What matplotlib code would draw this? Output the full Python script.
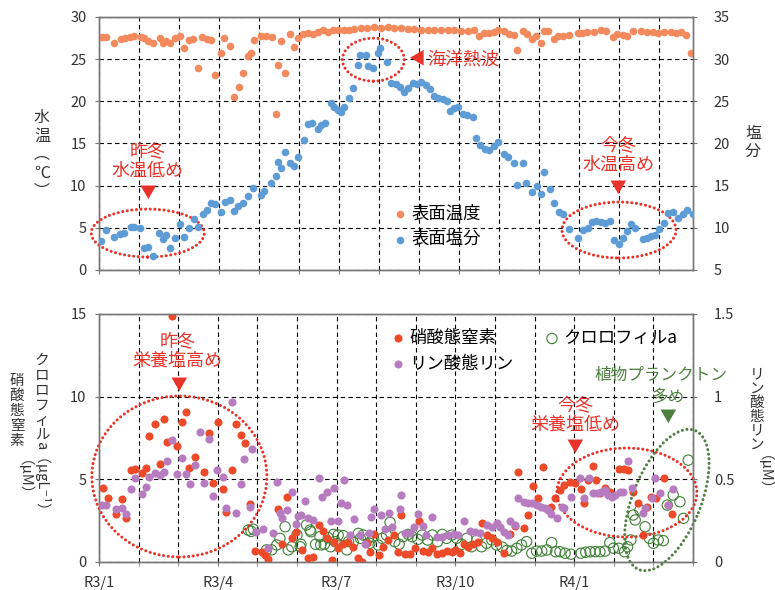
import matplotlib.pyplot as plt
from matplotlib.patches import Ellipse
from matplotlib.transforms import ScaledTranslation

plt.rcParams['font.family'] = ['Noto Sans CJK JP', 'DejaVu Sans']

# ---- data (x = months since R3/1) ----
temp_x = [0.07, 0.17, 0.38, 0.55, 0.65, 0.78, 0.87, 1.05, 1.13, 1.23, 1.35, 1.52, 1.59, 1.67, 1.78, 1.91,
          2.03, 2.12, 2.24, 2.35, 2.48, 2.58, 2.70, 2.80, 2.91, 3.05, 3.13, 3.27, 3.37, 3.49, 3.60, 3.72,
          3.80, 3.87, 4.05, 4.17, 4.32, 4.42, 4.47, 4.55, 4.65, 4.77, 4.88, 4.97, 5.09, 5.22, 5.34, 5.47,
          5.59, 5.72, 5.84, 5.97, 6.13, 6.25, 6.38, 6.55, 6.70, 6.88, 7.05, 7.22, 7.38, 7.55, 7.72, 7.88,
          8.05, 8.22, 8.38, 8.55, 8.72, 8.88, 9.05, 9.22, 9.38, 9.51, 9.62, 9.75, 9.88, 9.97, 10.12, 10.26,
          10.37, 10.45, 10.59, 10.70, 10.82, 10.93, 11.05, 11.13, 11.22, 11.37, 11.47, 11.60, 11.76, 11.97,
          12.07, 12.20, 12.38, 12.55, 12.68, 12.84, 12.95, 13.09, 13.20, 13.34, 13.55, 13.70, 13.84, 13.97,
          14.13, 14.29, 14.42, 14.55, 14.67, 14.81]
temp_v = [27.6, 27.6, 26.9, 27.4, 27.5, 27.6, 27.7, 27.6, 27.5, 27.2, 26.9, 27.5, 26.9, 27.1, 26.9, 27.5,
          27.7, 26.3, 27.3, 27.4, 23.9, 27.6, 27.4, 27.3, 23.1, 25.7, 27.5, 26.6, 20.5, 21.7, 23.4, 25.4,
          25.7, 27.3, 27.7, 27.7, 27.6, 18.5, 24.3, 27.2, 23.4, 28.0, 26.5, 27.5, 28.0, 28.1, 28.0, 28.2,
          28.4, 28.2, 28.5, 28.4, 28.5, 28.5, 28.6, 28.7, 28.7, 28.8, 28.7, 28.8, 28.7, 28.7, 28.6, 28.6,
          28.5, 28.5, 28.4, 28.5, 28.4, 28.5, 28.3, 28.3, 28.4, 27.8, 28.1, 28.1, 28.2, 28.4, 28.3, 28.0,
          27.9, 26.1, 28.3, 28.0, 27.4, 27.7, 26.9, 28.3, 28.3, 27.4, 27.8, 27.8, 27.9, 28.1,
          28.1, 28.2, 28.2, 28.4, 28.3, 27.6, 28.0, 27.9, 27.8, 28.3, 28.3, 28.2, 28.2, 28.1,
          28.2, 28.2, 28.1, 28.2, 27.9, 25.7]

sal_x = [0.05, 0.17, 0.37, 0.53, 0.63, 0.80, 0.88, 1.03, 1.12, 1.22, 1.35, 1.51, 1.59, 1.67, 1.78, 1.90,
         2.03, 2.12, 2.24, 2.37, 2.48, 2.59, 2.70, 2.80, 2.91, 3.05, 3.15, 3.27, 3.37, 3.48, 3.60, 3.72,
         3.84, 4.05, 4.13, 4.30, 4.42, 4.47, 4.55, 4.65, 4.77, 4.88, 4.98, 5.12, 5.22, 5.32, 5.47, 5.55,
         5.65, 5.80, 5.88, 5.97, 6.05, 6.13, 6.24, 6.34, 6.47, 6.53, 6.67, 6.73, 6.84, 6.97, 7.03, 7.20,
         7.30, 7.42, 7.53, 7.63, 7.73, 7.84, 7.95, 8.05, 8.18, 8.28, 8.38, 8.48, 8.59, 8.69, 8.78, 8.87,
         8.97, 9.09, 9.20, 9.34, 9.43, 9.53, 9.65, 9.76, 9.88, 9.97, 10.12, 10.23, 10.37, 10.45, 10.59,
         10.68, 10.82, 10.95, 11.05, 11.13, 11.27, 11.37, 11.49, 11.59, 11.76, 11.98, 12.09, 12.22, 12.32,
         12.42, 12.55, 12.65, 12.77, 12.87, 12.99, 13.10, 13.20, 13.30, 13.40, 13.59, 13.69, 13.80, 13.90,
         14.01, 14.12, 14.22, 14.34, 14.48, 14.59, 14.70, 14.84]
sal_v = [8.47, 9.74, 8.95, 9.27, 9.35, 10.13, 10.13, 10.0, 7.57, 7.69, 6.7, 9.35, 8.71, 9.1, 7.57, 8.75,
         10.45, 8.95, 10.0, 11.0, 10.13, 11.63, 12.1, 12.97, 12.8, 11.9, 13.1, 13.29, 11.99, 12.58, 12.97, 13.77,
         14.68, 13.89, 14.36, 15.34, 16.14, 17.83, 17.05, 19.02, 17.71, 17.32, 18.42, 20.4, 22.26, 22.38, 21.74, 22.18,
         22.38, 24.75, 24.35, 23.96, 23.76, 24.35, 25.34, 26.53, 29.29, 30.47, 30.47, 29.17, 28.9, 30.75, 31.27, 29.69,
         27.12, 27.04, 26.72, 26.13, 26.53, 27.19, 27.04, 27.31, 26.92, 26.41, 25.62, 25.34, 25.22, 25.06, 23.87, 24.15,
         24.35, 23.48, 23.36, 23.16, 20.6, 19.81, 19.3, 19.22, 19.69, 20.17, 18.74, 18.42, 17.71, 15.07, 17.63,
         15.34, 14.28, 14.95, 14.0, 16.65, 14.56, 12.97, 11.9, 11.63, 9.9, 8.75, 9.74, 9.94, 10.72,
         10.84, 10.72, 10.53, 10.84, 8.55, 8.04, 8.75, 9.59, 10.45, 9.94, 8.63, 8.75, 9.03, 9.15,
         9.82, 10.53, 11.72, 11.84, 11.13, 11.63, 12.1, 11.63]

no3_x = [0.11, 0.22, 0.42, 0.59, 0.68, 0.81, 0.91, 1.08, 1.18, 1.27, 1.41, 1.54, 1.63, 1.73, 1.84, 1.96,
         2.10, 2.19, 2.28, 2.42, 2.66, 2.79, 2.89, 3.00, 3.12, 3.22, 3.35, 3.45, 3.59, 3.69, 3.81, 3.94,
         4.11, 4.19, 4.28, 4.51, 4.61, 4.74, 4.87, 4.97, 5.12, 5.29, 5.41, 5.56, 5.66, 5.77, 5.89, 5.94,
         6.03, 6.17, 6.30, 6.42, 6.55, 6.63, 6.76, 6.84, 6.95, 7.07, 7.18, 7.31, 7.46, 7.56, 7.63, 7.73,
         7.85, 7.98, 8.09, 8.19, 8.30, 8.40, 8.53, 8.65, 8.78, 8.91, 8.99, 9.12, 9.23, 9.33, 9.45, 9.56,
         9.66, 9.79, 9.92, 10.04, 10.23, 10.38, 10.50, 10.59, 10.74, 10.84, 10.97, 11.09, 11.20, 11.41,
         11.52, 11.64, 11.75, 11.89, 12.02, 12.17, 12.26, 12.36, 12.48, 12.54, 12.65, 12.78, 12.90, 13.13,
         13.27, 13.37, 13.49, 13.60, 13.74, 13.83, 13.94, 14.06, 14.27, 14.38, 14.46]
no3_v = [4.49, 3.85, 2.88, 3.79, 2.68, 5.56, 5.62, 5.4, 5.7, 7.63, 8.32, 5.94, 8.64, 7.23, 14.88, 7.01,
         8.48, 9.05, 5.7, 6.34, 5.46, 7.78, 4.79, 8.44, 4.39, 3.0, 5.56, 8.32, 7.67, 7.17, 3.49, 0.66,
         0.62, 0.42, 0.18, 3.2, 1.07, 3.91, 1.43, 1.83, 0.73, 0.26, 0.32, 2.24, 1.87, 1.43, 0.12, 1.19,
         0.87, 1.07, 1.23, 0.93, 0.22, 0.02, 1.13, 0.62, 1.67, 0.42, 0.93, 1.33, 1.63, 0.62, 2.84, 0.47,
         0.47, 0.87, 2.48, 0.66, 0.62, 0.83, 0.47, 0.56, 0.66, 0.62, 0.73, 0.53, 1.07, 0.92, 1.07, 1.19,
         2.34, 1.63, 1.47, 1.19, 0.53, 1.67, 2.19, 5.46, 2.07, 2.84, 4.61, 3.85, 5.76, 3.34,
         3.85, 4.35, 4.65, 4.85, 4.75, 4.41, 3.55, 4.95, 5.82, 4.95, 4.15, 4.49, 4.25, 5.62,
         5.6, 5.56, 4.25, 3.55, 1.63, 3.34, 3.91, 3.85, 5.09, 3.44, 2.88]

po4_x = [0.07, 0.19, 0.42, 0.57, 0.68, 0.81, 0.91, 1.08, 1.18, 1.27, 1.41, 1.54, 1.64, 1.73, 1.84, 1.96,
         2.10, 2.20, 2.30, 2.42, 2.56, 2.66, 2.79, 2.89, 2.99, 3.12, 3.22, 3.35, 3.45, 3.58, 3.67, 3.81,
         3.87, 3.96, 4.15, 4.28, 4.40, 4.50, 4.57, 4.63, 4.74, 4.87, 4.97, 5.03, 5.10, 5.20, 5.29, 5.41,
         5.56, 5.64, 5.75, 5.86, 5.94, 6.03, 6.11, 6.19, 6.26, 6.34, 6.45, 6.59, 6.73, 6.82, 6.87, 6.95,
         7.12, 7.22, 7.32, 7.41, 7.60, 7.63, 7.73, 7.85, 7.96, 8.05, 8.19, 8.27, 8.42, 8.53, 8.65, 8.82,
         8.97, 9.07, 9.23, 9.37, 9.49, 9.62, 9.79, 9.92, 10.04, 10.13, 10.24, 10.34, 10.38, 10.50, 10.59,
         10.72, 10.83, 10.93, 11.05, 11.16, 11.26, 11.35, 11.41, 11.56, 11.68, 11.75, 11.92, 12.15, 12.26,
         12.37, 12.48, 12.57, 12.68, 12.78, 12.86, 12.95, 13.03, 13.16, 13.24, 13.35, 13.45, 13.74, 13.79,
         13.96, 14.04, 14.17, 14.38, 14.50]
po4_v = [0.344, 0.344, 0.32, 0.324, 0.288, 0.441, 0.506, 0.409, 0.451, 0.515, 0.536, 0.526, 0.542, 0.612, 0.737, 0.53,
         0.627, 0.53, 0.47, 0.586, 0.784, 0.476, 0.743, 0.399, 0.556, 0.516, 0.328, 0.965, 0.298, 0.469, 0.622, 0.334,
         0.683, 0.179, 0.199, 0.086, 0.173, 0.485, 0.294, 0.268, 0.314, 0.421, 0.228, 0.28, 0.284, 0.369, 0.264, 0.254,
         0.509, 0.395, 0.421, 0.248, 0.449, 0.248, 0.355, 0.495, 0.342, 0.163, 0.26, 0.163, 0.107, 0.173, 0.274, 0.32,
         0.284, 0.199, 0.294, 0.213, 0.32, 0.405, 0.173, 0.173, 0.213, 0.288, 0.219, 0.163, 0.272, 0.153, 0.153, 0.163,
         0.167, 0.163, 0.248, 0.187, 0.183, 0.173, 0.224, 0.213, 0.234, 0.213, 0.179, 0.163, 0.248, 0.224, 0.389,
         0.36, 0.355, 0.355, 0.344, 0.334, 0.324, 0.314, 0.288, 0.264, 0.334, 0.324, 0.395, 0.506, 0.385,
         0.506, 0.415, 0.415, 0.425, 0.435, 0.405, 0.395, 0.405, 0.425, 0.425, 0.61, 0.449, 0.294, 0.324,
         0.385, 0.509, 0.415, 0.344, 0.44]

chl_x = [3.77, 3.84, 3.90, 4.23, 4.36, 4.49, 4.57, 4.70, 4.78, 4.87, 5.00, 5.08, 5.10, 5.24, 5.33, 5.35,
         5.47, 5.58, 5.60, 5.69, 5.79, 5.85, 5.92, 5.96, 6.04, 6.17, 6.26, 6.30, 6.42, 6.55, 6.60, 6.67,
         6.80, 6.84, 6.93, 7.05, 7.15, 7.26, 7.35, 7.47, 7.58, 7.68, 7.81, 7.91, 8.05, 8.16, 8.30, 8.42,
         8.55, 8.67, 8.78, 8.91, 9.03, 9.16, 9.29, 9.41, 9.54, 9.66, 9.79, 9.92, 10.04, 10.18, 10.30, 10.42,
         10.55, 10.67, 10.80, 10.93, 11.05, 11.18, 11.31, 11.43, 11.53, 11.64, 11.77, 11.92, 12.17, 12.29,
         12.40, 12.53, 12.65, 12.78, 12.90, 12.99, 13.13, 13.27, 13.35, 13.43, 13.49, 13.54, 13.66, 13.79,
         13.90, 14.00, 14.12, 14.25, 14.35, 14.50, 14.67, 14.76, 14.88]
chl_v = [1.93, 1.85, 1.98, 0.73, 0.73, 1.03, 1.43, 2.13, 0.73, 0.92, 1.63, 0.92, 1.07, 2.24, 1.93, 1.83,
         1.07, 1.53, 1.03, 1.07, 1.47, 0.92, 1.67, 1.23, 1.63, 1.59, 0.73, 1.23, 1.19, 1.73, 1.43, 1.63,
         1.43, 1.13, 1.53, 1.03, 1.43, 1.63, 2.4, 1.23, 1.07, 1.53, 1.67, 1.53, 1.37, 1.63, 1.33, 1.63,
         1.23, 1.67, 1.43, 1.63, 1.43, 1.07, 1.43, 0.92, 1.33, 0.92, 1.13, 1.33, 1.03, 0.9, 0.7, 0.66,
         0.83, 1.03, 1.23, 0.53, 0.66, 0.66, 0.73, 1.17, 0.62, 0.62, 0.53, 0.47, 0.53, 0.59,
         0.62, 0.62, 0.62, 0.66, 1.17, 0.83, 0.83, 0.62, 0.92, 1.33, 2.84, 2.54, 3.14, 2.13,
         1.43, 1.13, 1.33, 1.29, 3.44, 4.05, 3.64, 2.64, 6.16]

month_ticks = [0, 3, 6, 9, 12]
month_labels = ["R3/1", "R3/4", "R3/7", "R3/10", "R4/1"]

# ---- colours ----
c_temp = "#F28A5E"
c_sal = "#5E9CD6"
c_no3 = "#EC4A28"
c_po4 = "#B77CC0"
c_chl = "#3F7F36"
c_red = "#E8332A"
c_grn = "#4E8040"
c_txt = "#333333"
c_spn = "#777777"

fig = plt.figure(figsize=(7.75, 5.9), dpi=100)


def style_axes(ax, ax2, xmax):
    ax.set_xlim(0, xmax)
    ax.set_xticks(range(0, int(xmax) + 1))
    ax.grid(True, color="black", linestyle=(0, (4, 3)), linewidth=0.8)
    ax.set_axisbelow(True)
    for a in (ax, ax2):
        for s in a.spines.values():
            s.set_color(c_spn)
            s.set_linewidth(1.0)
        a.tick_params(colors=c_spn, labelcolor=c_txt, labelsize=10.5, length=3, width=0.8)
    ax.tick_params(axis="y", pad=6)
    ax2.tick_params(axis="y", pad=12)


def dotted_ellipse(ax, x, y, w, h, color, angle=0):
    # centre in data units, size in pixels
    tr = fig.dpi_scale_trans + ScaledTranslation(x, y, ax.transData)
    e = Ellipse((0, 0), w / 100, h / 100, angle=angle, fill=False, edgecolor=color,
                linewidth=2.2, linestyle=(0, (0.01, 1.5)), capstyle="round",
                transform=tr, clip_on=False, zorder=5)
    ax.add_artist(e)


# ---------------- top panel ----------------
ax1 = fig.add_axes([0.1277, 0.5424, 0.7665, 0.4288])
ax1b = ax1.twinx()
style_axes(ax1, ax1b, 14.85)
ax1.set_ylim(0, 30)
ax1.set_yticks(range(0, 31, 5))
ax1b.set_ylim(5, 35)
ax1b.set_yticks(range(5, 36, 5))
ax1.tick_params(axis="x", labelbottom=False)

h_temp = ax1.scatter(temp_x, temp_v, s=30, color=c_temp, linewidths=0, zorder=3, label="表面温度")
h_sal = ax1b.scatter(sal_x, sal_v, s=30, color=c_sal, linewidths=0, zorder=3, label="表面塩分")
ax1b.legend(handles=[h_temp, h_sal], loc="center left", bbox_to_anchor=(0.498, 0.173),
            frameon=False, fontsize=12.5, handlelength=0.6, handletextpad=0.35,
            labelspacing=0.45, borderpad=0, borderaxespad=0)

dotted_ellipse(ax1, 1.22, 4.38, 113, 48, c_red)
dotted_ellipse(ax1, 13.0, 4.74, 114, 56, c_red)
dotted_ellipse(ax1, 6.86, 24.94, 62, 43, c_red)
ax1.text(1.21, 12.9, "昨冬\n水温低め", color=c_red, fontsize=13, ha="center", va="center", linespacing=1.1)
ax1.text(1.21, 9.1, "▼", color=c_red, fontsize=12, ha="center", va="center")
ax1.text(12.98, 13.6, "今冬\n水温高め", color=c_red, fontsize=13, ha="center", va="center", linespacing=1.1)
ax1.text(12.98, 9.7, "▼", color=c_red, fontsize=12, ha="center", va="center")
ax1.text(7.96, 25.0, "◀", color=c_red, fontsize=12, ha="center", va="center")
ax1.text(8.21, 25.0, "海洋熱波", color=c_red, fontsize=13, ha="left", va="center")

fig.text(42 / 775, 1 - 109 / 590, "水\n温\n︵\n℃\n︶", color=c_txt, fontsize=11.5, ha="center", va="top", linespacing=1.12)
fig.text(753 / 775, 1 - 125 / 590, "塩\n分", color=c_txt, fontsize=11.5, ha="center", va="top", linespacing=1.12)

# ---------------- bottom panel ----------------
ax2 = fig.add_axes([0.1277, 0.0475, 0.7665, 0.4203])
ax2b = ax2.twinx()
style_axes(ax2, ax2b, 15)
ax2.set_ylim(0, 15)
ax2.set_yticks([0, 5, 10, 15])
ax2b.set_ylim(0, 1.5)
ax2b.set_yticks([0, 0.5, 1, 1.5])
ax2b.set_yticklabels(["0", "0.5", "1", "1.5"])
ax2.set_xticks(month_ticks, labels=month_labels, minor=False)
ax2.set_xticks(range(16), minor=True)
ax2.tick_params(axis="x", which="both", length=3, colors=c_spn, labelcolor=c_txt, pad=7)
ax2.grid(True, which="minor", axis="x", color="black", linestyle=(0, (4, 3)), linewidth=0.8)

h_chl = ax2.scatter(chl_x, chl_v, s=55, facecolors="none", edgecolors=c_chl, linewidths=0.8, zorder=3, label="クロロフィルa")
h_no3 = ax2.scatter(no3_x, no3_v, s=34, color=c_no3, linewidths=0, zorder=4, label="硝酸態窒素")
h_po4 = ax2b.scatter(po4_x, po4_v, s=34, color=c_po4, linewidths=0, zorder=3, label="リン酸態リン")
ax2b.legend(handles=[h_no3, h_po4, h_chl], ncol=2, loc="center left", bbox_to_anchor=(0.495, 0.851),
            frameon=False, fontsize=12.5, handlelength=0.6, handletextpad=0.35,
            labelspacing=0.45, columnspacing=1.9, borderpad=0, borderaxespad=0)

dotted_ellipse(ax2, 2.03, 5.17, 175, 161, c_red)
dotted_ellipse(ax2, 13.33, 4.2, 140, 89, c_red)
dotted_ellipse(ax2, 14.34, 3.75, 150, 68, c_grn, angle=68)
ax2.text(1.99, 12.75, "昨冬\n栄養塩高め", color=c_red, fontsize=13, ha="center", va="center", linespacing=1.1)
ax2.text(2.02, 10.7, "▼", color=c_red, fontsize=12, ha="center", va="center")
ax2.text(12.02, 8.88, "今冬\n栄養塩低め", color=c_red, fontsize=13, ha="center", va="center", linespacing=1.1)
ax2.text(12.02, 6.95, "▼", color=c_red, fontsize=12, ha="center", va="center")
ax2.text(14.2, 11.3, "植物プランクトン", color=c_grn, fontsize=12, ha="center", va="center", clip_on=False)
ax2.text(14.37, 9.95, "多め", color=c_grn, fontsize=12, ha="center", va="center", clip_on=False)
ax2.text(14.37, 8.76, "▼", color=c_grn, fontsize=12, ha="center", va="center")

fig.text(42 / 775, 1 - 354 / 590, "ク\nロ\nロ\nフ\nィ\nル", color=c_txt, fontsize=10.5, ha="center", va="top", linespacing=1.08)
fig.text(42 / 775, 1 - 441 / 590, "a（µgL⁻¹）", color=c_txt, fontsize=10.5, ha="center", va="top", rotation=-90)
fig.text(17 / 775, 1 - 374 / 590, "硝\n酸\n態\n窒\n素", color=c_txt, fontsize=10.5, ha="center", va="top", linespacing=1.08)
fig.text(17 / 775, 1 - 460 / 590, "（µM）", color=c_txt, fontsize=10.5, ha="center", va="top", rotation=-90)
fig.text(757 / 775, 1 - 367 / 590, "リ\nン\n酸\n態\nリ\nン", color=c_txt, fontsize=10.5, ha="center", va="top", linespacing=1.02)
fig.text(757 / 775, 1 - 455 / 590, "（µM）", color=c_txt, fontsize=10.5, ha="center", va="top", rotation=-90)

fig.savefig("out.png", dpi=100)
